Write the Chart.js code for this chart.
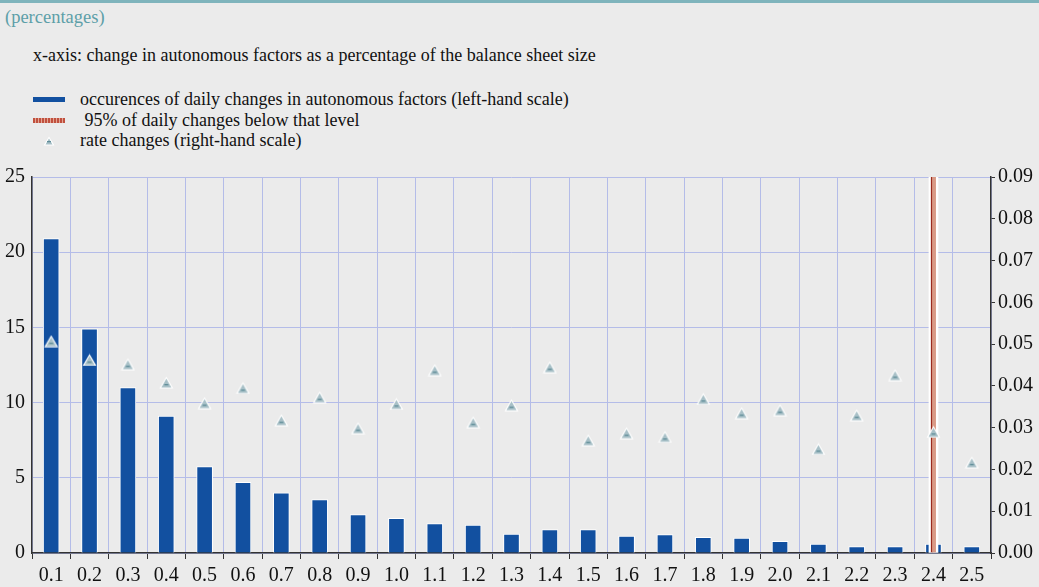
<!DOCTYPE html>
<html>
<head>
<meta charset="utf-8">
<script src="https://cdn.jsdelivr.net/npm/chart.js@4/dist/chart.umd.min.js"></script>
<style>
  html, body { margin: 0; padding: 0; background: #ebebeb; }
  body { width: 1039px; height: 587px; position: relative; overflow: hidden; font-family: "Liberation Serif", "Times New Roman", serif; }
  .topline { position: absolute; left: 0; top: 0; width: 1039px; height: 3px; background: #7fb4bc; }
  .units { position: absolute; left: 5px; top: 7px; font-size: 18.5px; color: #5d9fa8; }
  .note { position: absolute; left: 33px; top: 45px; font-size: 18px; color: #111; }
  .legend { position: absolute; left: 33px; top: 89px; font-size: 18px; color: #111; }
  .legend div { height: 20.5px; line-height: 20.5px; position: relative; padding-left: 47px; }
  .sw { position: absolute; left: 0; }
  .sw.blue { top: 8px; width: 32px; height: 5px; background: #1250a0; }
  .sw.red { top: 8px; width: 32px; height: 5px; background: repeating-linear-gradient(90deg, #c0503e 0 2px, #e2a593 2px 3px); }
  .sw.tri { top: 6px; left: 10px; }
  #wrap { position: absolute; left: 0; top: 0; width: 1039px; height: 587px; }
</style>
</head>
<body>
<div class="topline"></div>
<div class="units">(percentages)</div>
<div class="note">x-axis: change in autonomous factors as a percentage of the balance sheet size</div>
<div class="legend">
  <div><span class="sw blue"></span>occurences of daily changes in autonomous factors (left-hand scale)</div>
  <div><span class="sw red"></span>&nbsp;95% of daily changes below that level</div>
  <div><canvas class="sw tri" id="legTri" width="12" height="10"></canvas>rate changes (right-hand scale)</div>
</div>
<div id="wrap"><canvas id="chart" width="1039" height="587"></canvas></div>
<script>
const categories = ['0.1', '0.2', '0.3', '0.4', '0.5', '0.6', '0.7', '0.8', '0.9', '1.0',
  '1.1', '1.2', '1.3', '1.4', '1.5', '1.6', '1.7', '1.8', '1.9', '2.0',
  '2.1', '2.2', '2.3', '2.4', '2.5'];

// occurrences, left-hand scale
const occurrences = [20.9, 14.9, 11.0, 9.1, 5.75, 4.7, 4.0, 3.55, 2.55, 2.3,
  1.95, 1.85, 1.25, 1.55, 1.55, 1.13, 1.22, 1.04, 1.0, 0.78,
  0.6, 0.42, 0.42, 0.6, 0.42];

// rate changes, right-hand scale
const rateChanges = [0.0507, 0.0462, 0.0452, 0.0408, 0.0359, 0.0395, 0.0318, 0.0373, 0.0299, 0.0357,
  0.0438, 0.0313, 0.0354, 0.0445, 0.0270, 0.0287, 0.0278, 0.0369, 0.0335, 0.0342,
  0.0249, 0.0330, 0.0426, 0.0290, 0.0217];

// 95% level marker
const level95 = categories.map(c => c === '2.4' ? 25 : null);

function makeTriangle(w, h) {
  const c = document.createElement('canvas');
  c.width = w; c.height = h;
  drawTriangle(c, w, h);
  return c;
}

function drawTriangle(c, w, h) {
  const g = c.getContext('2d');
  g.beginPath();
  g.moveTo(w / 2, 0.5);
  g.lineTo(w - 0.5, h - 0.5);
  g.lineTo(0.5, h - 0.5);
  g.closePath();
  g.fillStyle = '#ffffff';
  g.fill();
  g.beginPath();
  g.moveTo(w / 2, 2.5);
  g.lineTo(w - 2.5, h - 1.5);
  g.lineTo(2.5, h - 1.5);
  g.closePath();
  g.fillStyle = '#a8c0c7';
  g.fill();
  g.fillStyle = '#5e8c97';
  g.fillRect(w / 2 - 2, h - 5, 4, 1.3);
}

drawTriangle(document.getElementById('legTri'), 12, 10);
const triImg = makeTriangle(15, 13);

const gridColor = '#b4bce8';
const tickFont = { family: '"Liberation Serif", "Times New Roman", serif', size: 20 };

new Chart(document.getElementById('chart'), {
  type: 'bar',
  data: {
    labels: categories,
    datasets: [{
      type: 'line',
      label: 'rate changes (right-hand scale)',
      data: rateChanges,
      yAxisID: 'y1',
      showLine: false,
      pointStyle: triImg,
      pointRadius: 7,
      order: 0
    }, {
      label: '95% of daily changes below that level',
      data: level95,
      yAxisID: 'y',
      grouped: false,
      barThickness: 5,
      backgroundColor: '#d99a86',
      borderColor: '#9a2b1e',
      borderWidth: { left: 1.5, right: 0, top: 0, bottom: 0 },
      borderSkipped: false,
      order: 1
    }, {
      label: 'outline',
      data: level95,
      yAxisID: 'y',
      grouped: false,
      barThickness: 9,
      backgroundColor: '#ffffff',
      order: 2
    }, {
      label: 'occurences of daily changes in autonomous factors (left-hand scale)',
      data: occurrences,
      yAxisID: 'y',
      grouped: false,
      barThickness: 16,
      backgroundColor: '#1250a0',
      borderColor: '#ffffff',
      borderWidth: 1,
      borderSkipped: 'bottom',
      order: 3
    }]
  },
  options: {
    responsive: false,
    animation: false,
    layout: { padding: { top: 177, left: 0, right: 0, bottom: 0 } },
    plugins: { legend: { display: false }, tooltip: { enabled: false } },
    scales: {
      x: {
        grid: { color: gridColor, tickColor: '#333', tickLength: 6, offset: true },
        border: { color: '#333', width: 1.5 },
        ticks: { color: '#111', font: tickFont, padding: 5, maxRotation: 0, autoSkip: false },
        afterFit: s => { s.height = 34; }
      },
      y: {
        position: 'left',
        min: 0, max: 25,
        ticks: { stepSize: 5, color: '#111', font: tickFont, padding: 7 },
        grid: { color: gridColor, drawTicks: false },
        border: { color: '#333', width: 1.5 },
        afterFit: s => { s.width = 32; }
      },
      y1: {
        position: 'right',
        min: 0, max: 0.09,
        ticks: { stepSize: 0.01, color: '#111', font: tickFont, padding: 3, callback: v => v.toFixed(2) },
        grid: { drawOnChartArea: false, tickColor: '#333', tickLength: 4 },
        border: { color: '#333', width: 1.5 },
        afterFit: s => { s.width = 48; }
      }
    }
  }
});
</script>
</body>
</html>
